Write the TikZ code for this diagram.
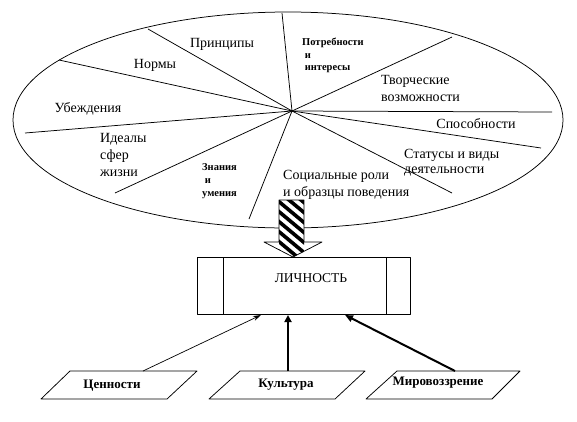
\documentclass[tikz,border=0pt]{standalone}
\usepackage{fontspec}
\setmainfont{Liberation Serif}
\usetikzlibrary{arrows.meta}
\begin{document}
\begin{tikzpicture}[x=1pt,y=-1pt,line join=round,
  thinline/.style={line width=0.75pt},
  lbl/.style={inner sep=0pt,anchor=base west,font=\fontsize{14}{17}\selectfont,align=left},
  clbl/.style={inner sep=0pt,anchor=base,font=\fontsize{14}{17}\selectfont},
  smalllbl/.style={inner sep=0pt,anchor=base west,font=\fontsize{10.5}{13}\selectfont\bfseries,align=left},
  srclbl/.style={inner sep=0pt,font=\fontsize{13}{15}\selectfont\bfseries},
  para/.style={draw,line width=0.75pt,fill=white}]
\useasboundingbox (0,0) rectangle (577,421);

% ellipse and spokes
\draw[thinline] (288,120) ellipse [x radius=275pt, y radius=108pt];
\coordinate (h) at (292,111);
\coordinate (s1) at (282,13);
\coordinate (s2) at (148,29);
\coordinate (s3) at (59,60);
\coordinate (s4) at (25,133);
\coordinate (s5) at (115,193);
\coordinate (s6) at (249,219);
\coordinate (s7) at (452,37);
\coordinate (s8) at (552,112);
\coordinate (s9) at (541,148);
\coordinate (s10) at (452,193);
\foreach \s in {s1,s2,s3,s4,s5,s6,s7,s8,s9,s10}
  \draw[thinline] (h) -- (\s);

% sector labels (base anchor of a multi-line node = baseline of its last line)
\node[clbl] (principy) at (222,47) {Принципы};
\node[clbl] (normy) at (155,68) {Нормы};
\node[clbl] (ubezhd) at (88,112) {Убеждения};
\node[lbl] (idealy) at (100,176) {Идеалы\\сфер\\жизни};
\node[smalllbl] (znaniya) at (202,196) {Знания\\\ и\\умения};
\node[smalllbl,font=\fontsize{10.5}{12.5}\selectfont\bfseries] (potreb) at (302,70.5) {Потребности\\\ и\\\ интересы};
\node[lbl] (tvorch) at (381,101) {Творческие\\возможности};
\node[clbl] (sposob) at (476,128) {Способности};
\node[lbl,font=\fontsize{14}{15.5}\selectfont] (status) at (404,173.5) {Статусы и виды\\деятельности};
\node[lbl] (social) at (283,196) {Социальные роли\\и образцы поведения};

% hatched block arrow
\coordinate (a1) at (279,200);
\coordinate (a2) at (304,200);
\coordinate (a3) at (304,242);
\coordinate (a4) at (322,242);
\coordinate (atip) at (293,257);
\coordinate (a6) at (264,242);
\coordinate (a7) at (279,242);
\fill[white] (a1) -- (a2) -- (a3) -- (a4) -- (atip) -- (a6) -- (a7) -- cycle;
\begin{scope}
  \clip (a1) -- (a2) -- (a3) -- (a4) -- (atip) -- (a6) -- (a7) -- cycle;
  \clip (279,195) rectangle (304,260);
  \foreach \k in {-7,...,8}
    \draw[line width=3.6pt] (265,190+10*\k) -- (325,240+10*\k);
\end{scope}
\draw[thinline] (a1) -- (a2) -- (a3) -- (a4) -- (atip) -- (a6) -- (a7) -- cycle;

% personality box
\node[draw,thinline,minimum width=213pt,minimum height=57pt,inner sep=0pt] (lich) at (303.5,285.5) {};
\draw[thinline] (223,257) -- (223,314);
\draw[thinline] (386,257) -- (386,314);
\node[inner sep=0pt,font=\fontsize{13.5}{15}\selectfont] (lichtext) at (311,278) {ЛИЧНОСТЬ};

% source parallelograms
\draw[para] (70,371) -- (197,371) -- (167,399) -- (41,399) -- cycle;
\node[srclbl] (cen) at (112,386) {Ценности};
\draw[para] (240,371) -- (365,371) -- (335,399) -- (209,399) -- cycle;
\node[srclbl] (kult) at (286,385) {Культура};
\draw[para] (397,371) -- (520,371) -- (492,399) -- (366,399) -- cycle;
\node[srclbl] (mir) at (438,383) {Мировоззрение};

% arrows to the box
\coordinate (c1) at (143,371);
\coordinate (b1) at (261,315);
\coordinate (c2) at (288,371);
\coordinate (b2) at (288,315);
\coordinate (c3) at (455,371);
\coordinate (b3) at (345,315);
\draw[line width=0.7pt,-{Stealth[length=8pt,width=5pt]}] (c1) -- (b1);
\draw[line width=2.6pt,-{Triangle[length=7pt,width=7pt]}] (c2) -- (b2);
\draw[line width=2pt,-{Triangle[length=8pt,width=6.5pt]}] (c3) -- (b3);
\end{tikzpicture}
\end{document}
